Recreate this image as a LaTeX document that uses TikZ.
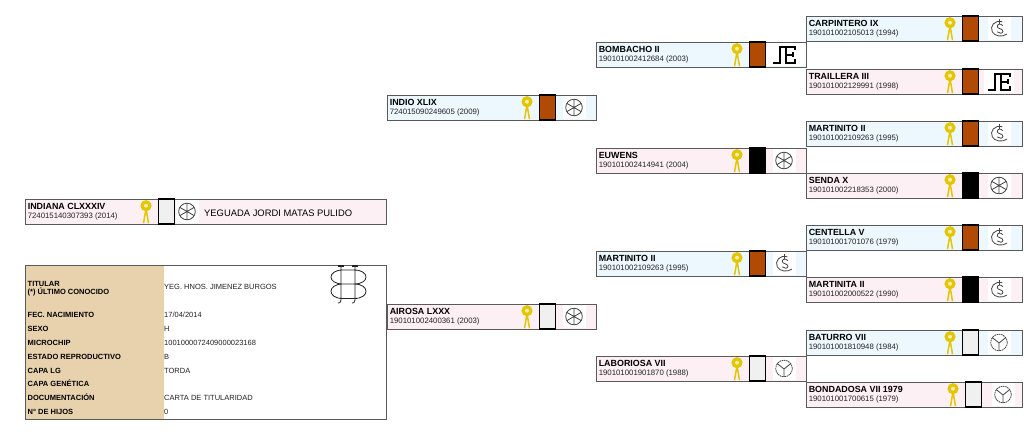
\documentclass[tikz,border=0pt]{standalone}
\usepackage{fontspec}
\setmainfont{Liberation Sans}
\definecolor{tintP}{HTML}{FDF0F4}
\definecolor{tintB}{HTML}{EDF8FE}
\definecolor{coatB}{HTML}{B04A05}
\definecolor{coatW}{HTML}{F0F0F0}
\definecolor{coatK}{HTML}{000000}
\definecolor{ribbonY}{HTML}{E3C500}
\definecolor{tanfill}{HTML}{E8D2AE}
\definecolor{edgeC}{HTML}{5A5A5A}
\definecolor{inkC}{HTML}{222222}
\tikzset{
  horsebox/.style={draw=edgeC,line width=0.9pt,minimum height=25pt,anchor=north west,inner sep=0pt,outer sep=0pt},
  titletext/.style={anchor=base west,inner sep=0pt,font=\fontsize{8.9}{10}\selectfont\bfseries,text=black},
  regtext/.style={anchor=base west,inner sep=0pt,font=\fontsize{7.8}{9}\selectfont,text=inkC},
  lab/.style={anchor=base west,inner sep=0pt,font=\fontsize{7.5}{9}\selectfont\bfseries,text=black},
  val/.style={anchor=base west,inner sep=0pt,font=\fontsize{7.5}{9}\selectfont,text=inkC},
  brandline/.style={draw=inkC!85,line width=0.8pt},
  wheel/.pic={\fill[white] (-11.5,-11.5) rectangle (11.5,11.5);
    \draw[brandline] (0,0) circle[radius=8.3pt];
    \draw[brandline] (0,-8.3)--(0,8.3) (-7.2,-4.15)--(7.2,4.15) (-7.2,4.15)--(7.2,-4.15);},
  moon/.pic={\fill[white] (-11.5,-11.5) rectangle (11.5,11.5);
    \begin{scope}[scale=1.12]
    \draw[brandline] (3,-6) .. controls (-4,-8) and (-8.5,-2) .. (-6,3) .. controls (-4,7) and (3,8) .. (7,5);
    \draw[brandline] (3.5,-2.5) .. controls (1.5,-5) and (-2,-4) .. (-1.5,-1.5) .. controls (-1,0.5) and (3.5,0) .. (3.5,2.5) .. controls (3.5,4.5) and (0,5) .. (-1.5,3);
    \draw[brandline] (0.5,-8.5)--(0.5,-4.2);
    \end{scope}},
  ypsilon/.pic={\fill[white] (-11.5,-11.5) rectangle (11.5,11.5);
    \draw[brandline,dash pattern=on 1.6pt off 0.7pt] (0,0) circle[radius=8.3pt];
    \draw[brandline] (0,0.5)--(0,8.3) (0,0.5)--(-6.8,-5) (0,0.5)--(6.8,-5);},
  festrokes/.pic={\draw[black,line width=2pt,miter limit=4]
      (-11,8)--(-4,8)--(-4,-8)--(11,-8)--(11,-4.5)
      (2,-8)--(2,8)--(11,8)--(11,4.5)
      (2,0)--(9,0) (9,-2.5)--(9,2.5);},
  fe/.pic={\fill[white] (-15,-11.5) rectangle (15,11.5); \pic {festrokes};},
  febig/.pic={\fill[white] (-18,-11.5) rectangle (21.5,11.5); \pic {festrokes};},
  rosette/.pic={\draw[ribbonY,line width=1.5pt] (0,3)--(-2.5,17.5) (0,3)--(2.5,17.5);
    \fill[ribbonY] (0,0) circle[radius=5.6pt];
    \fill[white!70!ribbonY] (0,0) circle[radius=2pt];},
}
\newcommand{\horsebox}[7]{%
  \node[horsebox,minimum width=#4pt,fill=#5] (#1) at (#2,#3) {};
  \node[titletext] (#1t) at (#2+2.6,#3+10) {#6};
  \node[regtext] (#1r) at (#2+2.6,#3+19.5) {#7};}
\newcommand{\horsemarks}[5]{% ribbon x, top y, coat, brand, brand x offset
  \pic at (#1,#2+6.7) {rosette};
  \draw[black,line width=1.2pt,fill=#3] (#1+12.5,#2) rectangle (#1+28.5,#2+25);
  \pic at (#1+#5,#2+12.5) {#4};}
\newcommand{\tablerow}[4]{%
  \node[lab] (#1l) at (27.5,#2+2.7) {#3};
  \node[val] (#1v) at (164,#2+2.7) {#4};}
\begin{document}
\begin{tikzpicture}[x=1pt,y=-1pt]
\useasboundingbox[fill=white] (0,0) rectangle (1024,440);
% column 4
\horsebox{carpintero}{806}{16}{216}{tintB}{CARPINTERO IX}{190101002105013 (1994)}
\horsemarks{950}{16}{coatB}{moon}{49}
\horsebox{traillera}{806}{69}{216}{tintP}{TRAILLERA III}{190101002129991 (1998)}
\horsemarks{950}{69}{coatB}{fe}{49}
\horsebox{martinitoD}{806}{121}{216}{tintB}{MARTINITO II}{190101002109263 (1995)}
\horsemarks{950}{121}{coatB}{moon}{49}
\horsebox{senda}{806}{173}{216}{tintP}{SENDA X}{190101002218353 (2000)}
\horsemarks{950}{173}{coatK}{wheel}{49}
\horsebox{centella}{806}{225}{216}{tintB}{CENTELLA V}{190101001701076 (1979)}
\horsemarks{950}{225}{coatB}{moon}{49}
\horsebox{martinita}{806}{277}{216}{tintP}{MARTINITA II}{190101002000522 (1990)}
\horsemarks{950}{277}{coatK}{moon}{49}
\horsebox{baturro}{806}{330}{216}{tintB}{BATURRO VII}{190101001810948 (1984)}
\horsemarks{950}{330}{coatW}{ypsilon}{49}
\horsebox{bondadosa}{806}{382}{216}{tintP}{BONDADOSA VII 1979}{190101001700615 (1979)}
\horsemarks{953}{382}{coatW}{ypsilon}{50}
% column 3
\horsebox{bombacho}{596}{42}{210}{tintB}{BOMBACHO II}{190101002412684 (2003)}
\horsemarks{737}{42}{coatB}{febig}{47}
\horsebox{euwens}{596}{148}{210}{tintP}{EUWENS}{190101002414941 (2004)}
\horsemarks{737}{148}{coatK}{wheel}{47}
\horsebox{martinitoC}{596}{251}{210}{tintB}{MARTINITO II}{190101002109263 (1995)}
\horsemarks{737}{251}{coatB}{moon}{47}
\horsebox{laboriosa}{596}{356}{210}{tintP}{LABORIOSA VII}{190101001901870 (1988)}
\horsemarks{737}{356}{coatW}{ypsilon}{47}
% column 2
\horsebox{indio}{387}{95}{209}{tintB}{INDIO XLIX}{724015090249605 (2009)}
\horsemarks{527}{95}{coatB}{wheel}{47}
\horsebox{airosa}{387}{304}{209}{tintP}{AIROSA LXXX}{190101002400361 (2003)}
\horsemarks{527}{304}{coatW}{wheel}{47}
% subject
\horsebox{indiana}{25}{199}{361}{tintP}{INDIANA CLXXXIV}{724015140307393 (2014)}
\horsemarks{146}{199}{coatW}{wheel}{41}
\node[anchor=base west,inner sep=0pt,font=\fontsize{9.4}{11}\selectfont,text=black] (stud) at (204,216) {YEGUADA JORDI MATAS PULIDO};
% data table
\node[anchor=north west,draw=edgeC,line width=0.9pt,minimum width=361pt,minimum height=154pt,inner sep=0pt,outer sep=0pt,fill=white] (datatable) at (25,265) {};
\fill[tanfill] (26,266) rectangle (164,418.5);
\node[lab] (titl) at (27.5,286.7) {TITULAR};
\node[lab] (ulti) at (27.5,294.4) {(*) ÚLTIMO CONOCIDO};
\node[val] (yeg) at (164,289.4) {YEG. HNOS. JIMENEZ BURGOS};
\tablerow{fec}{315}{FEC. NACIMIENTO}{17/04/2014}
\tablerow{sex}{329}{SEXO}{H}
\tablerow{chip}{343}{MICROCHIP}{1001000072409000023168}
\tablerow{est}{356.7}{ESTADO REPRODUCTIVO}{B}
\tablerow{capa}{370.5}{CAPA LG}{TORDA}
\tablerow{gen}{384}{CAPA GENÉTICA}{}
\tablerow{doc}{398}{DOCUMENTACIÓN}{CARTA DE TITULARIDAD}
\tablerow{hij}{412}{N° DE HIJOS}{0}
% large brand
\draw[inkC,line width=0.8pt]
  (343,270) .. controls (327,270) and (327,284) .. (343,284) -- (354,284) .. controls (370,284) and (370,270) .. (354,270) -- cycle
  (343,284) .. controls (327,284) and (327,298.5) .. (343,298.5) -- (354,298.5) .. controls (370,298.5) and (370,284) .. (354,284)
  (341,266)--(341,300) .. controls (341,303) and (339,303) .. (338,303)
  (355,266)--(355,300) .. controls (355,303) and (353,303) .. (352,303);
\draw[inkC,line width=1.1pt] (338,266)--(344,266) (352,266)--(358,266);
\end{tikzpicture}
\end{document}
